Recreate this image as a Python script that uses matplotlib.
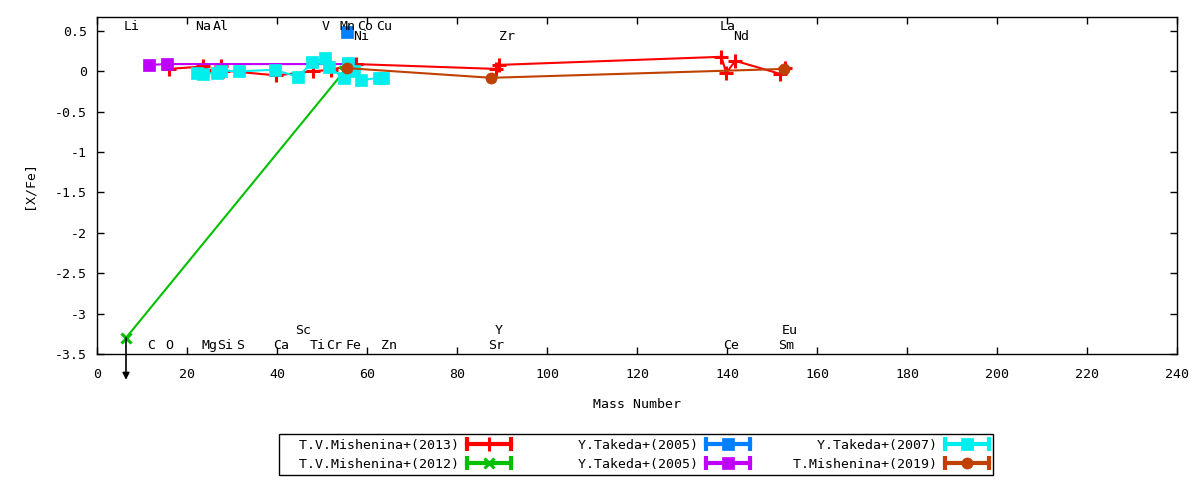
import numpy as np
import matplotlib
matplotlib.use("Agg")
import matplotlib.pyplot as plt
from matplotlib.lines import Line2D
from matplotlib.legend_handler import HandlerLine2D, HandlerTuple

plt.rcParams["font.family"] = "DejaVu Sans Mono"
plt.rcParams["font.size"] = 9.5
plt.rcParams["axes.unicode_minus"] = False

# T.V.Mishenina+(2013)
red_x = [16.0, 23.5, 24.3, 27.5, 28.1, 39.8, 47.9, 52.0, 57.5, 88.7, 89.4, 138.7, 139.8, 141.8, 151.7, 152.9]
red_y = [0.03, 0.06, 0.00, 0.06, 0.01, -0.05, 0.00, 0.02, 0.09, 0.03, 0.08, 0.18, -0.02, 0.13, -0.03, 0.04]
# T.V.Mishenina+(2012)
green_x = [6.45, 54.9]
green_y = [-3.30, 0.00]
# Y.Takeda+(2005)
blue_x = [55.6]
blue_y = [0.49]
# Y.Takeda+(2005)
purple_x = [11.5, 15.6, 55.8]
purple_y = [0.08, 0.09, 0.09]
# Y.Takeda+(2007)
cyan_x = [22.3, 23.6, 26.6, 27.6, 31.6, 39.5, 44.7, 47.7, 50.7, 51.6, 54.8, 55.7, 57.2, 58.6, 62.6, 63.5]
cyan_y = [-0.02, -0.03, -0.02, 0.01, 0.00, 0.02, -0.07, 0.11, 0.16, 0.05, -0.08, 0.10, 0.00, -0.11, -0.08, -0.08]
# T.Mishenina+(2019)
brown_x = [55.5, 87.6, 152.7]
brown_y = [0.04, -0.08, 0.03]

# element labels
top_names = ["Li", "Na", "Al", "V", "Mn", "Co", "Cu", "La"]
top_x = [7.8, 23.6, 27.6, 50.7, 55.6, 59.6, 63.8, 140.1]
top2_names = ["Ni", "Zr", "Nd"]
top2_x = [58.7, 91.0, 143.0]
bot_names = ["C", "O", "Mg", "Si", "S", "Ca", "Ti", "Cr", "Fe", "Zn", "Sr", "Ce", "Sm"]
bot_x = [12.0, 16.0, 24.9, 28.4, 31.9, 40.9, 49.1, 52.7, 56.9, 64.9, 88.7, 140.8, 153.0]
bot2_names = ["Sc", "Y", "Eu"]
bot2_x = [45.7, 89.2, 153.9]

labels = ["T.V.Mishenina+(2013)", "T.V.Mishenina+(2012)", "Y.Takeda+(2005)",
          "Y.Takeda+(2005)", "Y.Takeda+(2007)", "T.Mishenina+(2019)"]

fig = plt.figure(figsize=(12, 4.8), dpi=100)
ax = fig.add_axes([0.0808, 0.2625, 0.9003, 0.7021])

series = [
    (red_x, red_y, "#ff0000", "+", 9.5, 2.2),
    (green_x, green_y, "#00c000", "x", 7, 2.2),
    (blue_x, blue_y, "#0080ff", "s", 8.5, 0.5),
    (purple_x, purple_y, "#c000ff", "s", 8.5, 0.5),
    (cyan_x, cyan_y, "#00eeee", "s", 8.5, 0.5),
    (brown_x, brown_y, "#c04000", "o", 8, 0.5),
]

handles = []
hmap = {}
for (x, y, c, m, ms, mew), lab in zip(series, labels):
    ax.plot(x, y, color=c, lw=1.5, marker=m, ms=ms, mew=mew, mec=c, mfc=c)
    cap = Line2D([0], [0], color=c, lw=3, marker="|", ms=10, mew=3)
    mk = Line2D([0], [0], color=c, lw=0, marker=m, ms=ms, mew=mew, mec=c, mfc=c)
    hmap[cap] = HandlerLine2D(numpoints=2, marker_pad=0)
    handles.append((cap, mk))

# upper limit arrow
ax.annotate("", xy=(green_x[0], -3.82), xytext=(green_x[0], green_y[0]),
            arrowprops=dict(arrowstyle="-|>", color="black", lw=1.2,
                            mutation_scale=10, shrinkA=0, shrinkB=0),
            annotation_clip=False)

for n, x in zip(top_names, top_x):
    ax.text(x, 0.56, n, ha="center", va="center")
for n, x in zip(top2_names, top2_x):
    ax.text(x, 0.43, n, ha="center", va="center")
for n, x in zip(bot_names, bot_x):
    ax.text(x, -3.39, n, ha="center", va="center")
for n, x in zip(bot2_names, bot2_x):
    ax.text(x, -3.21, n, ha="center", va="center")

ax.set_xlim(0, 240)
ax.set_ylim(-3.5, 0.673)
ax.set_xticks(np.arange(0, 241, 20))
ax.set_yticks(np.arange(-3.5, 0.51, 0.5))
ax.yaxis.set_major_formatter(plt.FuncFormatter(lambda v, p: "%g" % round(v, 2)))
ax.tick_params(direction="in", length=5, width=1, top=True, right=True)
ax.tick_params(axis="x", pad=10)
ax.tick_params(axis="y", pad=7)
for s in ax.spines.values():
    s.set_linewidth(1)
ax.set_xlabel("Mass Number", labelpad=12)
ax.set_ylabel("[X/Fe]", labelpad=14)

fig.legend(handles, [l.rjust(22) for l in labels], handler_map={tuple: HandlerTuple(), **hmap},
           ncol=3, loc="center", bbox_to_anchor=(0.53, 0.053), numpoints=1,
           markerfirst=False, frameon=True, fancybox=False, framealpha=1,
           edgecolor="black", borderpad=0.35, labelspacing=0.45,
           handlelength=3.34, handletextpad=0.6, columnspacing=0.82,
           borderaxespad=0)

fig.savefig("out.png", dpi=100)
